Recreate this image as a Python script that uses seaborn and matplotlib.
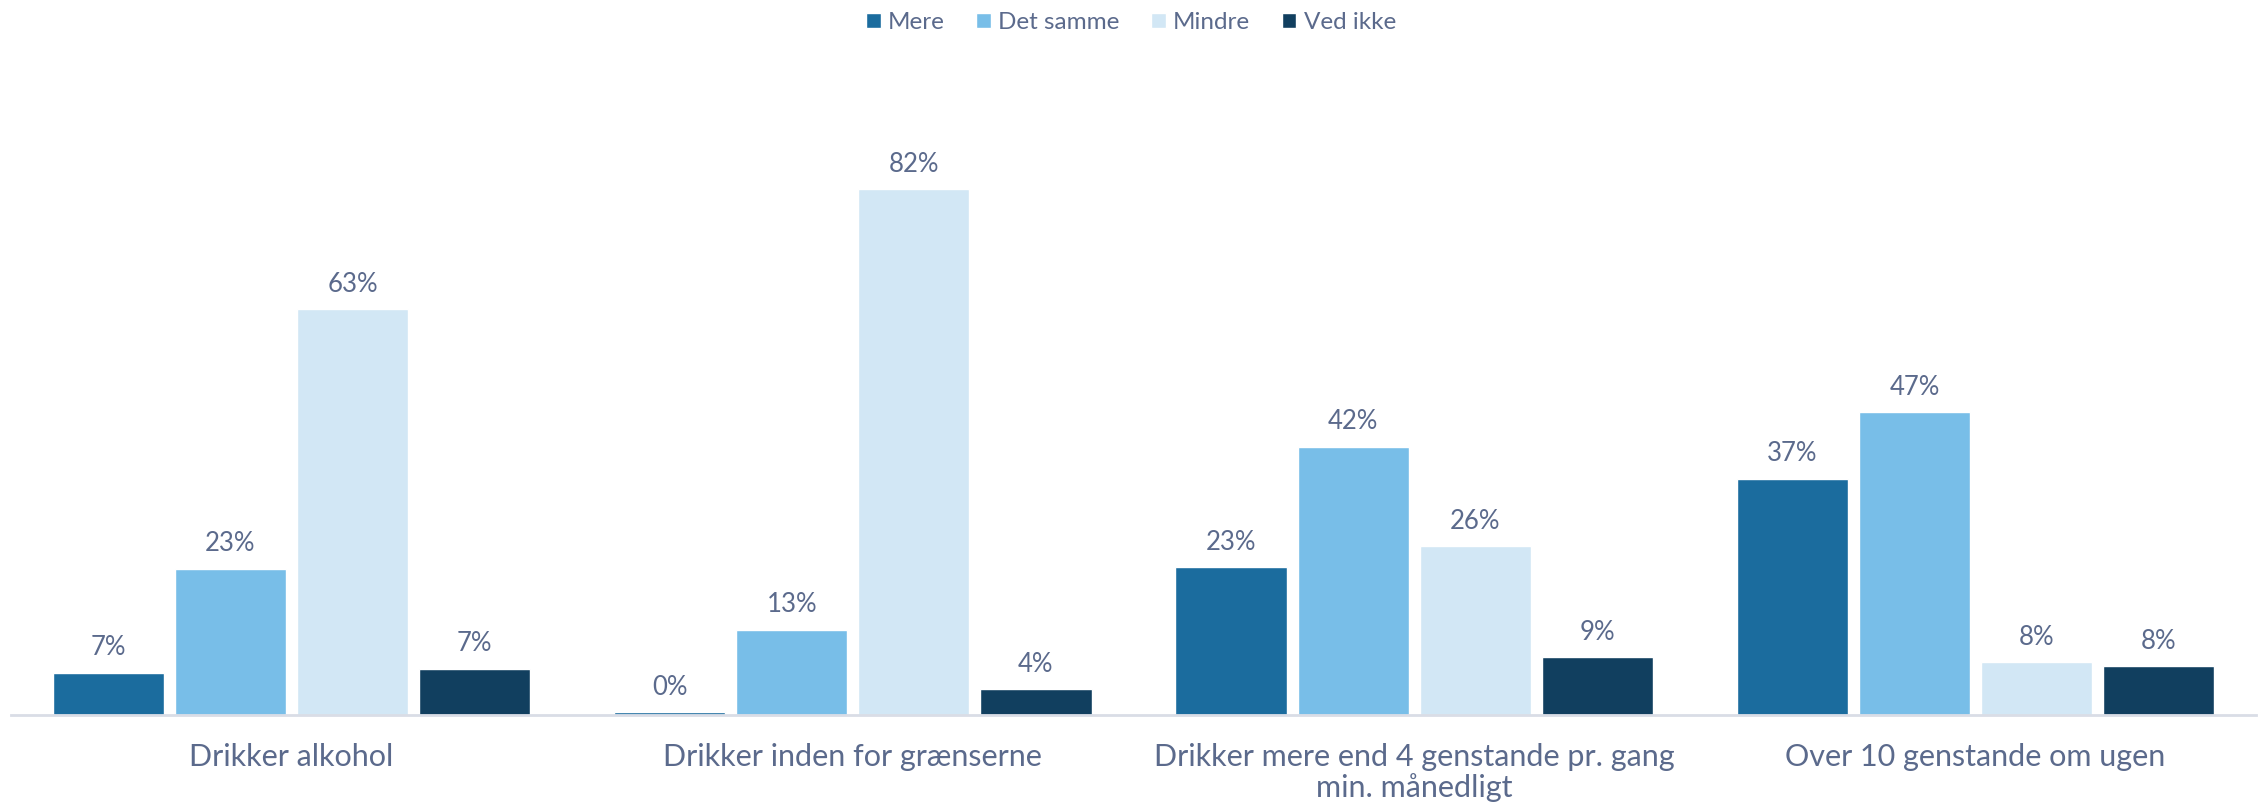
import matplotlib
matplotlib.use("Agg")
import matplotlib.pyplot as plt
import seaborn as sns
import pandas as pd

categories = ["Drikker alkohol", "Drikker inden for grænserne",
              "Drikker mere end 4 genstande pr. gang\nmin. månedligt",
              "Over 10 genstande om ugen"]
series = ["Mere", "Det samme", "Mindre", "Ved ikke"]
mere = [6.6, 0.45, 23.0, 36.8]
det_samme = [22.8, 13.3, 41.8, 47.2]
mindre = [63.3, 82.0, 26.3, 8.2]
ved_ikke = [7.2, 4.0, 9.0, 7.6]
colors = ["#1B6C9E", "#78BEE8", "#D2E7F5", "#113F5F"]

rows = []
for s, vals in zip(series, [mere, det_samme, mindre, ved_ikke]):
    for c, v in zip(categories, vals):
        rows.append({"cat": c, "series": s, "value": v})
df = pd.DataFrame(rows)

sns.set_theme(style="white")
plt.rcParams["font.family"] = ["Lato", "DejaVu Sans"]
text_color = "#5B6A8C"

fig = plt.figure(figsize=(22.62, 8.06), dpi=100)
ax = fig.add_axes([0.0048, 0.113, 0.9926, 0.716])
sns.barplot(data=df, x="cat", y="value", hue="series", order=categories,
            hue_order=series, palette=colors, width=0.87, gap=0.09,
            saturation=1, ax=ax, legend=True)

for cont in ax.containers:
    ax.bar_label(cont, labels=[f"{round(b.get_height()):.0f}%" for b in cont],
                 padding=9, fontsize=18.5, color=text_color)

ax.set_ylim(0, 90)
ax.set_xlim(-0.5, 3.5)
ax.set_xlabel("")
ax.set_ylabel("")
ax.set_yticks([])
for sp in ["top", "right", "left"]:
    ax.spines[sp].set_visible(False)
ax.spines["bottom"].set_color("#D9DDE6")
ax.spines["bottom"].set_linewidth(2)
ax.tick_params(axis="x", length=0, pad=20, labelsize=22, labelcolor=text_color)
for t in ax.get_xticklabels():
    t.set_linespacing(1.1)

handles, labels = ax.get_legend_handles_labels()
ax.get_legend().remove()
fig.legend(handles, labels, loc="upper center", bbox_to_anchor=(0.5, 1.012),
           ncol=4, frameon=False, fontsize=17.5, labelcolor=text_color,
           handlelength=0.6, handleheight=0.6, handletextpad=0.3,
           columnspacing=1.3)

fig.savefig("out.png", dpi=100, facecolor="white")
